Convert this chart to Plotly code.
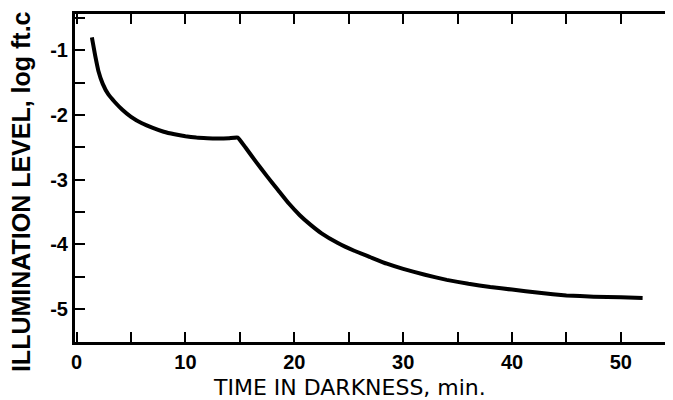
import plotly.graph_objects as go

time_min = [1.4, 1.7, 2.0, 2.4, 2.9, 3.5, 4.2, 5.0, 6.0, 7.0, 8.0, 9.0, 10.0, 11.0, 12.0, 13.0, 14.0, 14.8,
            15.5, 16.5, 17.5, 18.5, 19.5, 20.5, 21.5, 22.5, 24.0, 25.5, 27.0, 28.5, 30.0, 32.0, 34.0, 36.0,
            38.0, 40.0, 42.5, 45.0, 47.5, 50.0, 52.0]
log_level = [-0.8, -1.08, -1.32, -1.52, -1.68, -1.8, -1.92, -2.03, -2.13, -2.2, -2.26, -2.3, -2.33, -2.35,
             -2.36, -2.365, -2.36, -2.35,
             -2.5, -2.73, -2.95, -3.16, -3.37, -3.55, -3.7, -3.83, -3.98, -4.1, -4.2, -4.3, -4.38, -4.47,
             -4.55, -4.61, -4.66, -4.7, -4.75, -4.79, -4.81, -4.82, -4.83]

x_ticks = [0, 10, 20, 30, 40, 50]
y_ticks = [-1, -2, -3, -4, -5]
y_ticktext = ["-1", "-2", "-3", "-4", "-5"]

fig = go.Figure()
fig.add_trace(go.Scatter(x=time_min, y=log_level, mode="lines",
                         line=dict(color="black", width=4, shape="spline", smoothing=0.3),
                         showlegend=False, hoverinfo="skip"))

font_main = "Liberation Sans"
fig.update_layout(
    width=665, height=392,
    margin=dict(l=67, r=1, t=6, b=58),
    paper_bgcolor="white", plot_bgcolor="white",
    font=dict(family=font_main, color="black"),
    annotations=[
        dict(text="TIME IN DARKNESS, min.", xref="paper", yref="paper", x=0.459, y=-0.14,
             xanchor="center", yanchor="middle", showarrow=False,
             font=dict(size=22, family="DejaVu Sans", color="black")),
        dict(text="<b>ILLUMINATION LEVEL, log ft.c</b>", xref="paper", yref="paper", x=-0.0905, y=0.46,
             xanchor="center", yanchor="middle", showarrow=False, textangle=-90,
             font=dict(size=25, family=font_main, color="black")),
    ],
)
fig.update_xaxes(
    range=[-0.15, 54.7], showgrid=False, zeroline=False, automargin=False,
    showline=True, linecolor="black", linewidth=3, mirror="ticks",
    ticks="inside", ticklen=10, tickwidth=2, tickcolor="black",
    tickvals=x_ticks, ticktext=[str(v) for v in x_ticks],
    tickfont=dict(size=20, family=font_main, weight="bold"),
    minor=dict(dtick=5, ticks="inside", ticklen=10, tickwidth=2, tickcolor="black"),
)
fig.update_yaxes(
    range=[-5.51, -0.44], showgrid=False, zeroline=False, automargin=False,
    showline=True, linecolor="black", linewidth=3,
    ticks="inside", ticklen=10, tickwidth=2, tickcolor="black",
    tickvals=y_ticks, ticktext=y_ticktext,
    tickfont=dict(size=20, family=font_main, weight="bold"),
    minor=dict(dtick=0.5, tick0=0, ticks="inside", ticklen=10, tickwidth=2, tickcolor="black"),
)

fig.write_html("out.html")
